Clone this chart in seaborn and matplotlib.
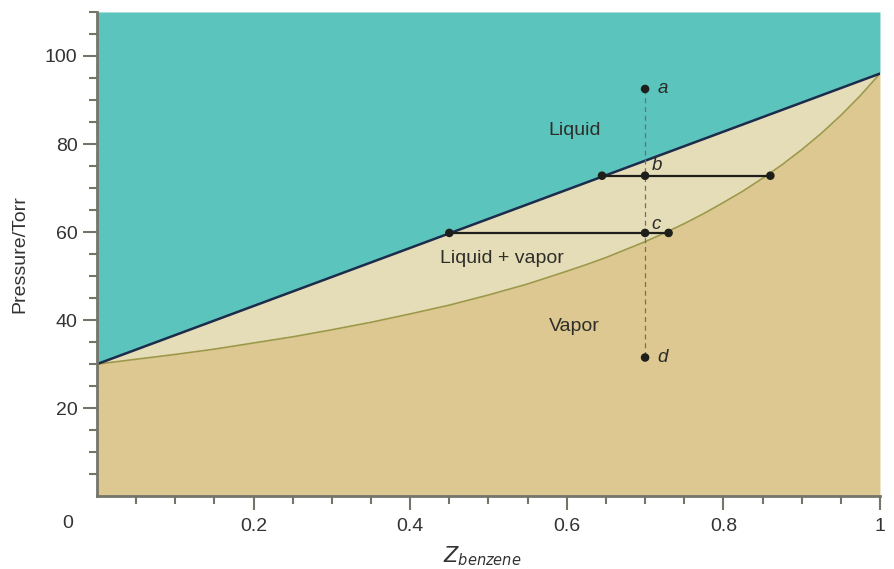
import numpy as np
import pandas as pd
import matplotlib
matplotlib.use("Agg")
import matplotlib.pyplot as plt
import seaborn as sns

# liquid line (bubble) and vapor curve (dew)
liq_x = [0.0, 1.0]
liq_p = [30.0, 96.0]
vap_x = [0.0, 0.05, 0.1, 0.15, 0.2, 0.25, 0.3, 0.35, 0.4, 0.45, 0.5,
         0.55, 0.6, 0.625, 0.65, 0.675, 0.7, 0.725, 0.75, 0.775, 0.8,
         0.825, 0.85, 0.875, 0.9, 0.925, 0.95, 0.975, 1.0]
vap_p = [30.0, 31.1, 32.2, 33.4, 34.8, 36.2, 37.8, 39.5, 41.4, 43.4, 45.7,
         48.2, 51.1, 52.6, 54.2, 56.0, 57.8, 59.8, 61.9, 64.2, 66.7,
         69.3, 72.2, 75.3, 78.7, 82.4, 86.5, 91.0, 96.0]

# state points a-d and the two tie lines
pt_labels = ["a", "b", "c", "d"]
pt_x = [0.70, 0.70, 0.70, 0.70]
pt_p = [92.5, 72.8, 59.8, 31.5]
tie_b = [0.645, 0.86]
tie_c = [0.45, 0.73]

region_labels = ["Liquid", "Liquid + vapor", "Vapor"]
region_x = [0.61, 0.517, 0.61]
region_p = [83.0, 54.0, 38.6]

teal = "#5bc4bc"
mix = "#e5dcb8"
vap = "#dcc890"
axcol = "#75746a"
txtcol = "#333333"

sns.set_style("white")
plt.rcParams["font.family"] = ["Liberation Sans", "DejaVu Sans"]

fig = plt.figure(figsize=(8.94, 5.69), dpi=100)
ax = fig.add_axes([0.1085, 0.128, 0.8758, 0.851])

xs = np.array(vap_x)
liq_on_grid = np.interp(xs, liq_x, liq_p)
ax.fill_between(xs, 0, vap_p, color=vap, lw=0)
ax.fill_between(xs, vap_p, liq_on_grid, color=mix, lw=0)
ax.fill_between(xs, liq_on_grid, 110, color=teal, lw=0)

sns.lineplot(x=vap_x, y=vap_p, color="#9c9848", lw=1.2, ax=ax)
sns.lineplot(x=liq_x, y=liq_p, color="#1c2c4c", lw=1.8, ax=ax)

# dashed vertical path through a-d
ax.plot([pt_x[0], pt_x[-1]], [pt_p[0], pt_p[-1]], ls=(0, (4, 3)),
        color="#707068", lw=0.9, zorder=3)

# tie lines
for seg, p in [(tie_b, pt_p[1]), (tie_c, pt_p[2])]:
    sns.lineplot(x=seg, y=[p, p], color="#1e1e1a", lw=1.6, ax=ax)
    sns.scatterplot(x=seg, y=[p, p], color="#1e1e1a", s=38,
                    edgecolor="none", ax=ax, zorder=5)

pts = pd.DataFrame({"x": pt_x, "p": pt_p, "lab": pt_labels})
sns.scatterplot(data=pts, x="x", y="p", color="#1e1e1a", s=38,
                edgecolor="none", ax=ax, zorder=5)
offs = {"a": (0.016, 0.0), "b": (0.008, 2.4), "c": (0.008, 2.0), "d": (0.016, 0.0)}
for lab, x, p in zip(pt_labels, pt_x, pt_p):
    dx, dy = offs[lab]
    ax.text(x + dx, p + dy, lab, style="italic", fontsize=13.5,
            color="#2a2a28", va="center", ha="left")

for lab, x, p in zip(region_labels, region_x, region_p):
    ax.text(x, p, lab, fontsize=14, color="#2e2e2a", ha="center", va="center")

ax.set_xlim(0, 1)
ax.set_ylim(0, 110)
ax.set_xticks([0.2, 0.4, 0.6, 0.8, 1.0])
ax.set_xticklabels(["0.2", "0.4", "0.6", "0.8", "1"])
ax.set_xticks(np.arange(0.05, 1.0, 0.05), minor=True)
ax.set_yticks([20, 40, 60, 80, 100])
ax.set_yticks([5, 10, 15, 25, 30, 35, 45, 50, 55, 65, 70, 75, 85, 90, 95, 105, 110],
              minor=True)
ax.tick_params(axis="both", which="both", bottom=True, left=True,
               direction="out", width=1.5, color=axcol)
ax.tick_params(axis="both", which="major", length=10, labelsize=14,
               labelcolor=txtcol)
ax.tick_params(axis="both", which="minor", length=6)
ax.tick_params(axis="y", which="major", pad=4)
ax.tick_params(axis="x", which="major", pad=6)

for s in ["top", "right"]:
    ax.spines[s].set_visible(False)
for s in ["left", "bottom"]:
    ax.spines[s].set_color(axcol)
    ax.spines[s].set_linewidth(2)

fig.text(68 / 894, 1 - 523 / 569, "0", fontsize=14, color=txtcol,
         ha="center", va="center")
ax.set_xlabel("")
ax.set_ylabel("Pressure/Torr", fontsize=14, color=txtcol, labelpad=12)
fig.text(482 / 894, 1 - 556 / 569, r"$Z_{benzene}$", fontsize=15,
         color=txtcol, ha="center", va="center")

fig.savefig("out.png", dpi=100)
